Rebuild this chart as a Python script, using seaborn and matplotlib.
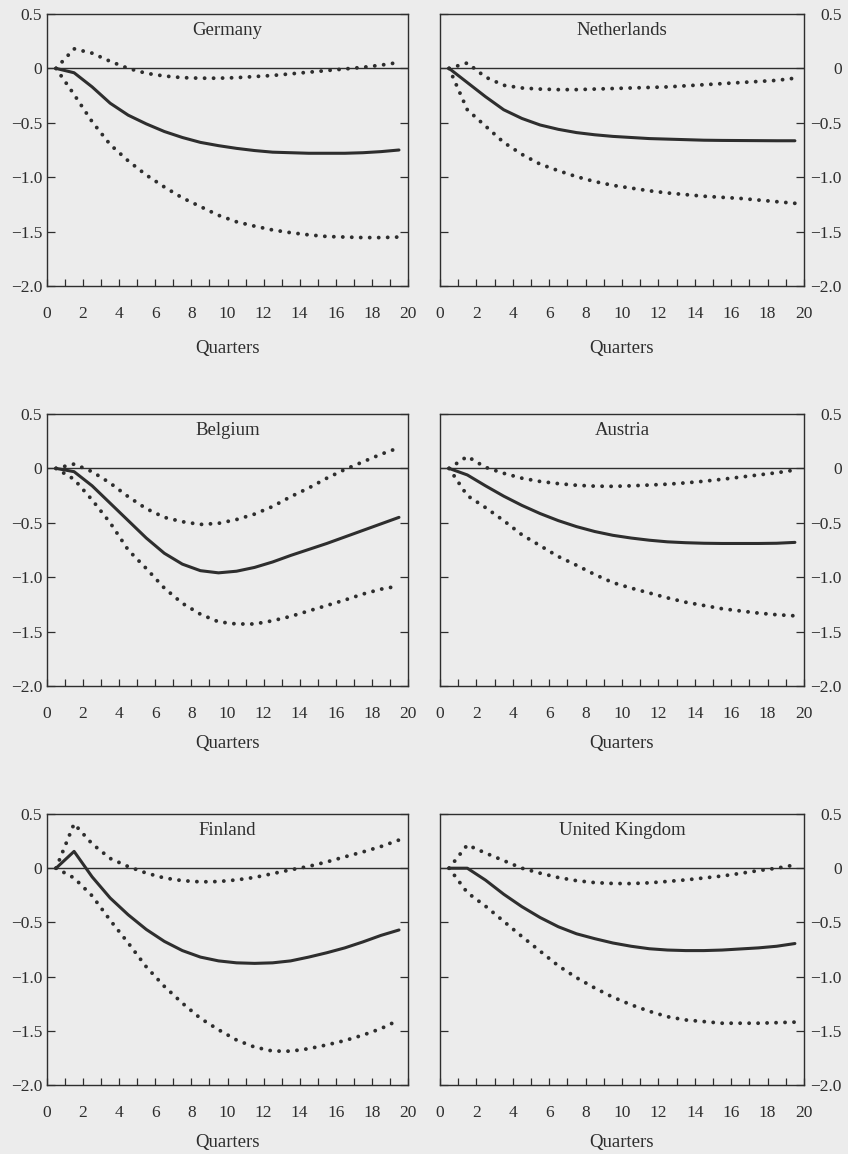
import matplotlib
matplotlib.use("Agg")
import matplotlib.pyplot as plt
import seaborn as sns
from matplotlib.ticker import MultipleLocator

# ---------------- data ----------------
quarters = [0.5, 1.5, 2.5, 3.5, 4.5, 5.5, 6.5, 7.5, 8.5, 9.5,
            10.5, 11.5, 12.5, 13.5, 14.5, 15.5, 16.5, 17.5, 18.5, 19.5]

germany_irf = [0, -0.04, -0.17, -0.32, -0.43, -0.51, -0.58, -0.635, -0.68, -0.71,
               -0.735, -0.755, -0.77, -0.775, -0.78, -0.78, -0.78, -0.775, -0.765, -0.75]
germany_upper = [0, 0.18, 0.14, 0.065, 0.0, -0.045, -0.07, -0.085, -0.09, -0.09,
                 -0.085, -0.075, -0.065, -0.05, -0.035, -0.02, -0.005, 0.01, 0.03, 0.055]
germany_lower = [0, -0.24, -0.49, -0.70, -0.85, -0.98, -1.09, -1.19, -1.27, -1.35,
                 -1.41, -1.45, -1.485, -1.51, -1.53, -1.545, -1.55, -1.555, -1.555, -1.55]

netherlands_irf = [0, -0.13, -0.26, -0.38, -0.46, -0.52, -0.56, -0.59, -0.61, -0.625,
                   -0.635, -0.645, -0.65, -0.655, -0.66, -0.662, -0.663, -0.664, -0.665, -0.665]
netherlands_upper = [0, 0.05, -0.08, -0.155, -0.18, -0.19, -0.195, -0.195, -0.19, -0.185,
                     -0.18, -0.175, -0.17, -0.16, -0.15, -0.14, -0.13, -0.12, -0.11, -0.09]
netherlands_lower = [0, -0.38, -0.53, -0.68, -0.79, -0.88, -0.94, -0.995, -1.04, -1.075,
                     -1.10, -1.125, -1.145, -1.16, -1.175, -1.185, -1.195, -1.21, -1.225, -1.24]

belgium_irf = [0, -0.03, -0.16, -0.32, -0.48, -0.64, -0.78, -0.88, -0.94, -0.96,
               -0.945, -0.91, -0.86, -0.80, -0.745, -0.69, -0.63, -0.57, -0.51, -0.45]
belgium_upper = [0, 0.04, -0.03, -0.135, -0.26, -0.37, -0.45, -0.49, -0.515, -0.505,
                 -0.47, -0.42, -0.35, -0.26, -0.18, -0.09, -0.01, 0.06, 0.13, 0.19]
belgium_lower = [0, -0.10, -0.29, -0.50, -0.75, -0.92, -1.10, -1.24, -1.34, -1.41,
                 -1.43, -1.43, -1.40, -1.36, -1.31, -1.26, -1.21, -1.155, -1.11, -1.08]

austria_irf = [0, -0.06, -0.16, -0.255, -0.34, -0.415, -0.48, -0.535, -0.58, -0.615,
               -0.64, -0.66, -0.675, -0.683, -0.688, -0.69, -0.69, -0.69, -0.688, -0.68]
austria_upper = [0, 0.11, 0.01, -0.045, -0.09, -0.12, -0.14, -0.155, -0.163, -0.165,
                 -0.16, -0.153, -0.145, -0.133, -0.118, -0.10, -0.08, -0.06, -0.04, -0.015]
austria_lower = [0, -0.25, -0.36, -0.48, -0.61, -0.71, -0.81, -0.89, -0.975, -1.05,
                 -1.10, -1.145, -1.19, -1.23, -1.26, -1.29, -1.31, -1.33, -1.345, -1.355]

finland_irf = [0, 0.155, -0.08, -0.275, -0.43, -0.565, -0.675, -0.76, -0.82, -0.855,
               -0.873, -0.878, -0.873, -0.855, -0.82, -0.78, -0.735, -0.68, -0.62, -0.57]
finland_upper = [0, 0.41, 0.225, 0.09, 0.015, -0.045, -0.09, -0.115, -0.126, -0.123,
                 -0.108, -0.085, -0.05, -0.015, 0.017, 0.058, 0.105, 0.15, 0.20, 0.26]
finland_lower = [0, -0.09, -0.255, -0.48, -0.69, -0.91, -1.09, -1.245, -1.385, -1.49,
                 -1.585, -1.65, -1.687, -1.688, -1.665, -1.63, -1.59, -1.54, -1.48, -1.40]

uk_irf = [0, 0.0, -0.11, -0.24, -0.355, -0.455, -0.54, -0.605, -0.65, -0.69,
          -0.72, -0.743, -0.755, -0.76, -0.76, -0.755, -0.745, -0.735, -0.72, -0.695]
uk_upper = [0, 0.215, 0.14, 0.07, 0.0, -0.046, -0.086, -0.115, -0.133, -0.141,
            -0.142, -0.135, -0.122, -0.108, -0.09, -0.072, -0.048, -0.022, 0.0, 0.03]
uk_lower = [0, -0.225, -0.35, -0.49, -0.63, -0.765, -0.90, -1.01, -1.105, -1.19,
            -1.26, -1.32, -1.37, -1.40, -1.415, -1.43, -1.43, -1.43, -1.425, -1.42]

countries = ["Germany", "Netherlands", "Belgium", "Austria", "Finland", "United Kingdom"]
irfs = [germany_irf, netherlands_irf, belgium_irf, austria_irf, finland_irf, uk_irf]
uppers = [germany_upper, netherlands_upper, belgium_upper, austria_upper, finland_upper, uk_upper]
lowers = [germany_lower, netherlands_lower, belgium_lower, austria_lower, finland_lower, uk_lower]

ytick_values = [0.5, 0, -0.5, -1.0, -1.5, -2.0]
ytick_labels = ["0.5", "0", "\u22120.5", "\u22121.0", "\u22121.5", "\u22122.0"]
xlabel_text = "Quarters"

# ---------------- style ----------------
sns.set_theme(style="ticks")
plt.rcParams["font.family"] = ["Liberation Serif", "DejaVu Serif"]

BG = "#ececec"
INK = "#2e2e2e"

W, H = 848, 1154
fig = plt.figure(figsize=(W / 100, H / 100), dpi=100, facecolor=BG)

col_left = [47, 440]
col_right = [408, 804]
row_top = [14, 414, 814]
row_bot = [286, 686, 1085]
xlabel_pads = [13, 9, 9]

for i, name in enumerate(countries):
    r, c = divmod(i, 2)
    x0, x1 = col_left[c], col_right[c]
    yt, yb = row_top[r], row_bot[r]
    ax = fig.add_axes([x0 / W, 1 - yb / H, (x1 - x0) / W, (yb - yt) / H])
    ax.set_facecolor(BG)

    ax.axhline(0, color=INK, linewidth=1.0, zorder=1)
    sns.lineplot(x=quarters, y=irfs[i], ax=ax, color=INK, linewidth=2.2,
                 solid_capstyle="round", solid_joinstyle="round", zorder=3)
    for band in (uppers[i], lowers[i]):
        sns.lineplot(x=quarters, y=band, ax=ax, color=INK, linewidth=2.8,
                     linestyle=(0, (0.01, 2.3)), dash_capstyle="round", zorder=3)

    ax.set_xlim(0, 20)
    ax.set_ylim(-2.0, 0.5)
    ax.xaxis.set_major_locator(MultipleLocator(2))
    ax.xaxis.set_minor_locator(MultipleLocator(1))
    ax.set_yticks(ytick_values)
    ax.set_yticklabels(ytick_labels, ha="right")

    ax.tick_params(axis="x", which="both", direction="in", length=5, width=0.9,
                   color=INK, labelcolor=INK, labelsize=12.5, pad=14.5,
                   bottom=True, top=False)
    ax.tick_params(axis="y", which="both", direction="in", length=6, width=0.9,
                   color=INK, labelcolor=INK, labelsize=12.5,
                   pad=(3.5 if c == 0 else 27),
                   left=True, right=True,
                   labelleft=(c == 0), labelright=(c == 1))

    for sp in ax.spines.values():
        sp.set_color(INK)
        sp.set_linewidth(1.0)

    ax.set_xlabel(xlabel_text, fontsize=13.5, color=INK, labelpad=xlabel_pads[r])
    ax.set_ylabel("")
    ax.text(0.5, 0.94, name, transform=ax.transAxes, ha="center", va="center",
            fontsize=13.5, color=INK)

fig.savefig("out.png", dpi=100, facecolor=BG)
